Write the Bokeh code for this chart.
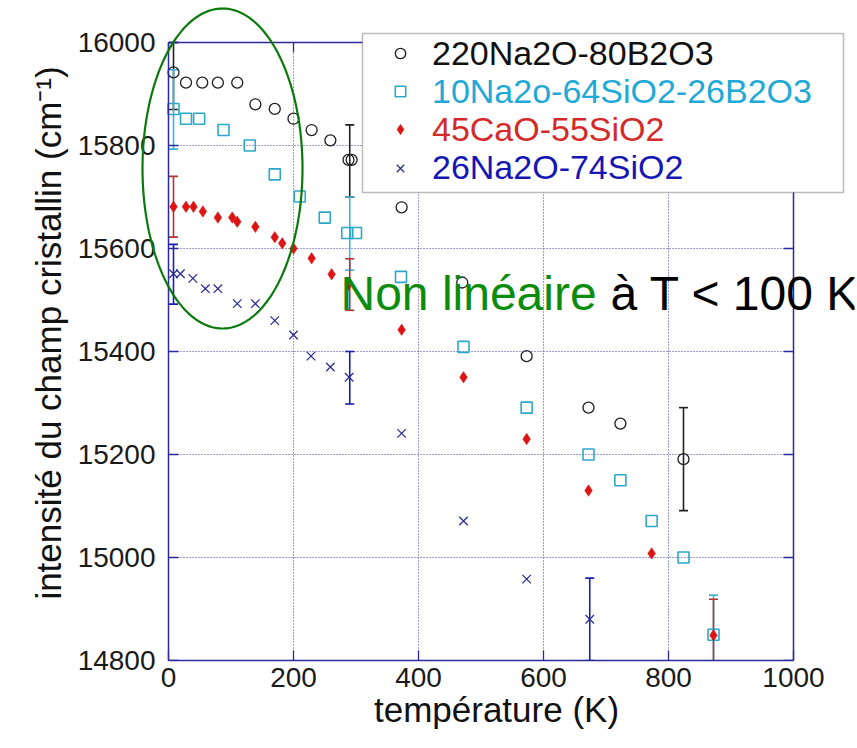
import numpy as np
from bokeh.plotting import figure
from bokeh.models import (Range1d, FixedTicker, LinearAxis, Legend, LegendItem, Label,
                          PolyAnnotation, BoxAnnotation, CustomJSTickFormatter)
from bokeh.embed import file_html
from bokeh.resources import INLINE

# ---------------- data ----------------
x_ticks = [0, 200, 400, 600, 800, 1000]
y_ticks = [14800, 15000, 15200, 15400, 15600, 15800, 16000]
x_lim = (0, 1000)
y_lim = (14800, 16000)

name_1 = "220Na2O-80B2O3"
x_1 = [8, 28, 54, 79, 110, 139, 170, 200, 229, 259, 288, 293, 373, 470, 573, 672, 723, 824]
y_1 = [15942, 15922, 15922, 15922, 15922, 15880, 15871, 15852, 15830, 15810, 15772, 15772,
       15680, 15534, 15391, 15291, 15260, 15191]
err_x_1 = [8, 290, 824]
err_lo_1 = [15870, 15700, 15091]
err_hi_1 = [16000, 15840, 15291]

name_2 = "10Na2o-64SiO2-26B2O3"
x_2 = [8, 28, 49, 88, 130, 170, 210, 250, 286, 300, 372, 472, 573, 672, 723, 773, 824, 872]
y_2 = [15871, 15852, 15852, 15830, 15800, 15744, 15701, 15660, 15630, 15630, 15545, 15409,
       15291, 15200, 15150, 15071, 15000, 14850]
err_x_2 = [8, 290, 872]
err_lo_2 = [15793, 15558, 14773]
err_hi_2 = [15947, 15700, 14927]

name_3 = "45CaO-55SiO2"
x_3 = [8, 28, 40, 55, 79, 102, 110, 139, 170, 182, 200, 229, 261, 288, 373, 472, 573, 672, 773, 872]
y_3 = [15681, 15681, 15681, 15672, 15660, 15660, 15652, 15642, 15622, 15610, 15600, 15581,
       15550, 15530, 15442, 15350, 15230, 15130, 15008, 14849]
err_x_3 = [8, 290, 872]
err_lo_3 = [15622, 15480, 14779]
err_hi_3 = [15740, 15580, 14919]

name_4 = "26Na2O-74SiO2"
x_4 = [8, 19, 39, 59, 79, 110, 139, 170, 200, 228, 259, 289, 373, 472, 573, 674]
y_4 = [15551, 15551, 15542, 15522, 15522, 15493, 15493, 15460, 15432, 15391, 15370, 15350,
       15241, 15071, 14958, 14880]
err_x_4 = [8, 290, 674]
err_lo_4 = [15492, 15298, 14800]
err_hi_4 = [15608, 15400, 14960]

note_green = "Non linéaire"
note_black = "à T < 100 K"

# ---------------- style ----------------
FONT = "Liberation Sans"
NAVY = "#2b2b9e"
GRID = "#3c3ca8"
C_BLACK = "#1e1e1e"
C_CYAN = "#2ea8c8"
C_RED = "#dc1414"
C_BLUE = "#2d2d8f"
BAR_COLORS = ["#222222", "#3cb4d2", "#b83232", "#1c1cb0"]
TXT_COLORS = ["#111111", "#1fa9d6", "#d42a2a", "#1616b4"]
GREEN_TXT = "#0c8c0c"
GREEN_ELL = "#0a7a0a"

# page geometry (pixels): visible box and the (larger) drawing frame
W, H = 857, 748
BOX_L, BOX_R, BOX_T, BOX_B = 168, 793, 42, 660
FL, FR, FT, FB = 138, 854, 5, 660
kx = (x_lim[1] - x_lim[0]) / (BOX_R - BOX_L)
ky = (y_lim[1] - y_lim[0]) / (BOX_B - BOX_T)
x_range = Range1d(x_lim[0] - (BOX_L - FL) * kx, x_lim[1] + (FR - BOX_R) * kx)
y_range = Range1d(y_lim[0] - (FB - BOX_B) * ky, y_lim[1] + (BOX_T - FT) * ky)

p = figure(width=W, height=H, output_backend="svg", toolbar_location=None,
           x_range=x_range, y_range=y_range,
           min_border_left=FL, min_border_right=W - FR,
           min_border_top=FT, min_border_bottom=H - FB,
           x_axis_label="température (K)",
           y_axis_label="intensité du champ cristallin (cm⁻¹)")
p.background_fill_color = "white"
p.border_fill_color = "white"
p.outline_line_color = None


def style_ticks(ax):
    ax.major_tick_in = 10
    ax.major_tick_out = 0
    ax.major_tick_line_color = NAVY
    ax.major_tick_line_width = 1.3
    ax.minor_tick_line_color = None
    ax.axis_line_color = NAVY
    ax.axis_line_width = 1.5


# bottom axis (at the frame bottom = y 14800)
xa = p.xaxis[0]
xa.ticker = FixedTicker(ticks=x_ticks)
xa.bounds = x_lim
style_ticks(xa)
xa.major_label_text_font = FONT
xa.major_label_text_font_size = "28px"
xa.major_label_text_color = "#1a1a1a"
xa.major_label_standoff = 7
xa.axis_label_text_font = FONT
xa.axis_label_text_font_size = "35px"
xa.axis_label_text_font_style = "normal"
xa.axis_label_text_color = "#111111"
xa.axis_label_standoff = 0

# left axis: labels only (line/ticks drawn by the fixed axis at x = 0)
ya = p.yaxis[0]
ya.ticker = FixedTicker(ticks=y_ticks)
ya.major_tick_in = 0
ya.major_tick_out = 0
ya.major_tick_line_color = None
ya.minor_tick_line_color = None
ya.axis_line_color = None
ya.major_label_text_font = FONT
ya.major_label_text_font_size = "28px"
ya.major_label_text_color = "#1a1a1a"
ya.major_label_standoff = -(BOX_L - FL - 13)
ya.axis_label_text_font = FONT
ya.axis_label_text_font_size = "35px"
ya.axis_label_text_font_style = "normal"
ya.axis_label_text_color = "#111111"
ya.axis_label_standoff = 7

# box sides: fixed-location axes with inward ticks and no labels
for place, ticks, loc, bnds in (("left", y_ticks, x_lim[0], y_lim),
                                ("right", y_ticks, x_lim[1], y_lim),
                                ("above", x_ticks, y_lim[1], x_lim)):
    ax = LinearAxis(ticker=FixedTicker(ticks=ticks), fixed_location=loc, bounds=bnds,
                    formatter=CustomJSTickFormatter(code="return ''"),
                    major_label_text_font_size="1px", major_label_standoff=0)
    style_ticks(ax)
    p.add_layout(ax, place)

p.xgrid[0].ticker = FixedTicker(ticks=x_ticks)
p.ygrid[0].ticker = FixedTicker(ticks=y_ticks)
p.xgrid[0].cross_bounds = y_lim
p.ygrid[0].cross_bounds = x_lim
for g in (p.xgrid[0], p.ygrid[0]):
    g.grid_line_color = GRID
    g.grid_line_dash = "1 2"
    g.grid_line_width = 1.1

# ---------------- error bars ----------------
bars = [(err_x_1, err_lo_1, err_hi_1), (err_x_2, err_lo_2, err_hi_2),
        (err_x_3, err_lo_3, err_hi_3), (err_x_4, err_lo_4, err_hi_4)]
for (bx, lo, hi), col in zip(bars, BAR_COLORS):
    p.segment(x0=bx, y0=lo, x1=bx, y1=hi, line_color=col, line_width=1.6)
    p.scatter(x=bx + bx, y=lo + hi, marker="dash", size=9, line_color=col, line_width=1.6)

# ---------------- series ----------------
r1 = p.scatter(x_1, y_1, marker="circle", size=11, fill_color=None,
               line_color=C_BLACK, line_width=1.3)
r2 = p.scatter(x_2, y_2, marker="square", size=11, fill_color=None,
               line_color=C_CYAN, line_width=1.6)
r3 = p.scatter(x_3, y_3, marker="diamond", size=11.5, fill_color=C_RED,
               line_color=C_RED, line_width=0.5)
r4 = p.scatter(x_4, y_4, marker="x", size=12, line_color=C_BLUE, line_width=1.3)

# ---------------- legend (box + one legend per coloured row) ----------------
LG_L, LG_R, LG_T, LG_B = 362, 843, 33, 192
p.add_layout(BoxAnnotation(left=LG_L - FL, right=LG_R - FL, top=FB - LG_T, bottom=FB - LG_B,
                           left_units="screen", right_units="screen",
                           top_units="screen", bottom_units="screen",
                           fill_color="white", fill_alpha=1.0,
                           line_color="#222222", line_width=1.5))
row_h = 38
glyph_w = 26
glyph_cx = 400
first_c = 53.5
step = 38.2
for i, (r, name, col) in enumerate(zip([r1, r2, r3, r4], [name_1, name_2, name_3, name_4],
                                       TXT_COLORS)):
    cy = first_c + i * step
    lg = Legend(items=[LegendItem(label=name, renderers=[r])],
                location=(glyph_cx - glyph_w / 2 - FL, FB - cy - row_h / 2),
                orientation="vertical",
                background_fill_alpha=0, border_line_color=None,
                padding=0, margin=0, spacing=0,
                glyph_width=glyph_w, glyph_height=row_h, label_height=row_h,
                label_standoff=19,
                label_text_font=FONT, label_text_font_size="34px",
                label_text_color=col)
    p.add_layout(lg)

# ---------------- annotations ----------------
t = np.linspace(0, 2 * np.pi, 240)
ell_cx, ell_cy = (222 - BOX_L) * kx, y_lim[1] - (168 - BOX_T) * ky
ell_a, ell_b = 80 * kx, 160 * ky
p.add_layout(PolyAnnotation(xs=list(ell_cx + ell_a * np.cos(t)),
                            ys=list(ell_cy + ell_b * np.sin(t)),
                            fill_color=None, fill_alpha=0,
                            line_color=GREEN_ELL, line_alpha=1.0, line_width=2.2))

mid_y = FB - 293
p.add_layout(Label(x=340 - FL, y=mid_y, x_units="screen", y_units="screen",
                   text=note_green, text_font=FONT, text_font_size="48px",
                   text_color=GREEN_TXT, text_baseline="middle"))
p.add_layout(Label(x=610 - FL, y=mid_y, x_units="screen", y_units="screen",
                   text=note_black, text_font=FONT, text_font_size="48px",
                   text_color="#000000", text_baseline="middle"))

open("out.html", "w").write(file_html(p, INLINE))
